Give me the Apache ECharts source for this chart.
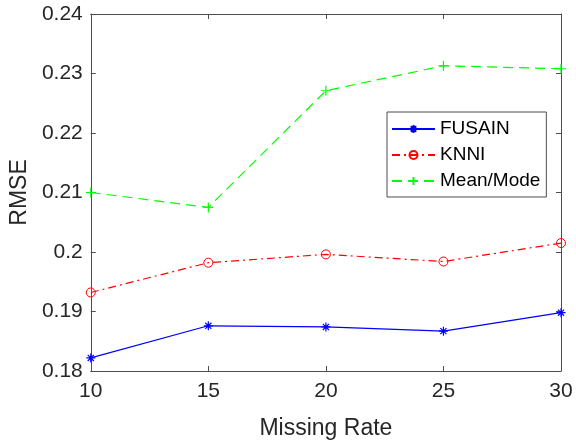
<!DOCTYPE html>
<html>
<head>
<meta charset="utf-8">
<script src="https://cdn.jsdelivr.net/npm/echarts@6/dist/echarts.min.js"></script>
<style>
  html, body { margin: 0; padding: 0; background: #fff; }
  #chart { width: 576px; height: 445px; }
</style>
</head>
<body>
<div id="chart"></div>
<script>
// 缺失率 (x) 与各方法的 RMSE
var missingRate = [10, 15, 20, 25, 30];
var fusain = [0.1822, 0.1876, 0.1874, 0.1867, 0.1898];
var knni = [0.1932, 0.1982, 0.1996, 0.1984, 0.2015];
var meanMode = [0.2100, 0.2075, 0.2271, 0.2313, 0.2308];

var pair = function (ys) {
  return missingRate.map(function (x, i) { return [x, ys[i]]; });
};

var axisColor = '#4d4d4d';
var textColor = '#262626';
var font = 'Liberation Sans, Arial, sans-serif';

var starPath = 'path://M0,5L10,5M5,0L5,10M1.6,1.6L8.4,8.4M8.4,1.6L1.6,8.4';
var plusPath = 'path://M0,5L10,5M5,0L5,10';

var myChart = echarts.init(document.getElementById('chart'));
myChart.setOption({
  backgroundColor: '#fff',
  animation: false,
  textStyle: { fontFamily: font },
  grid: { left: 89, right: 15, top: 14, bottom: 72 },
  legend: {
    orient: 'vertical',
    left: 387,
    top: 112,
    padding: [6, 6, 5, 4],
    itemWidth: 43,
    itemHeight: 10,
    itemGap: 4,
    borderColor: axisColor,
    borderWidth: 1,
    backgroundColor: '#fff',
    textStyle: { fontSize: 19, color: '#000', fontFamily: font, lineHeight: 22 },
    data: ['FUSAIN', 'KNNI', 'Mean/Mode']
  },
  xAxis: [{
    type: 'value',
    min: 10, max: 30, interval: 5,
    name: 'Missing Rate',
    nameLocation: 'middle',
    nameGap: 46,
    nameTextStyle: { fontSize: 23, color: textColor, fontFamily: font },
    axisLine: { lineStyle: { color: axisColor } },
    axisTick: { inside: true, length: 5, lineStyle: { color: axisColor } },
    axisLabel: { fontSize: 21, color: textColor, margin: 10, fontFamily: font },
    splitLine: { show: false }
  }, {
    type: 'value', position: 'top',
    min: 10, max: 30, interval: 5,
    axisLine: { lineStyle: { color: axisColor } },
    axisTick: { inside: true, length: 5, lineStyle: { color: axisColor } },
    axisLabel: { show: false },
    splitLine: { show: false }
  }],
  yAxis: [{
    type: 'value',
    min: 0.18, max: 0.24, interval: 0.01,
    name: 'RMSE',
    nameLocation: 'middle',
    nameGap: 50,
    nameTextStyle: { fontSize: 23, color: textColor, fontFamily: font },
    axisLine: { show: true, lineStyle: { color: axisColor } },
    axisTick: { show: true, inside: true, length: 5, lineStyle: { color: axisColor } },
    axisLabel: {
      fontSize: 21, color: textColor, margin: 8, fontFamily: font,
      formatter: function (v) { return String(+v.toFixed(2)); }
    },
    splitLine: { show: false }
  }, {
    type: 'value', position: 'right',
    min: 0.18, max: 0.24, interval: 0.01,
    axisLine: { show: true, lineStyle: { color: axisColor } },
    axisTick: { show: true, inside: true, length: 5, lineStyle: { color: axisColor } },
    axisLabel: { show: false },
    splitLine: { show: false }
  }],
  series: [{
    name: 'FUSAIN',
    type: 'line',
    data: pair(fusain),
    symbol: starPath,
    symbolSize: 9,
    itemStyle: { color: 'none', borderColor: '#0000ff', borderWidth: 1.2 },
    lineStyle: { color: '#0000ff', width: 1.2, type: 'solid' }
  }, {
    name: 'KNNI',
    type: 'line',
    data: pair(knni),
    symbol: 'circle',
    symbolSize: 9,
    itemStyle: { color: 'none', borderColor: '#ff0000', borderWidth: 1 },
    lineStyle: { color: '#ff0000', width: 1.2, type: [8, 4, 2, 4] }
  }, {
    name: 'Mean/Mode',
    type: 'line',
    data: pair(meanMode),
    symbol: plusPath,
    symbolSize: 10,
    itemStyle: { color: 'none', borderColor: '#00ff00', borderWidth: 1.2 },
    lineStyle: { color: '#00ff00', width: 1.2, type: [10, 6] }
  }]
});
</script>
</body>
</html>
